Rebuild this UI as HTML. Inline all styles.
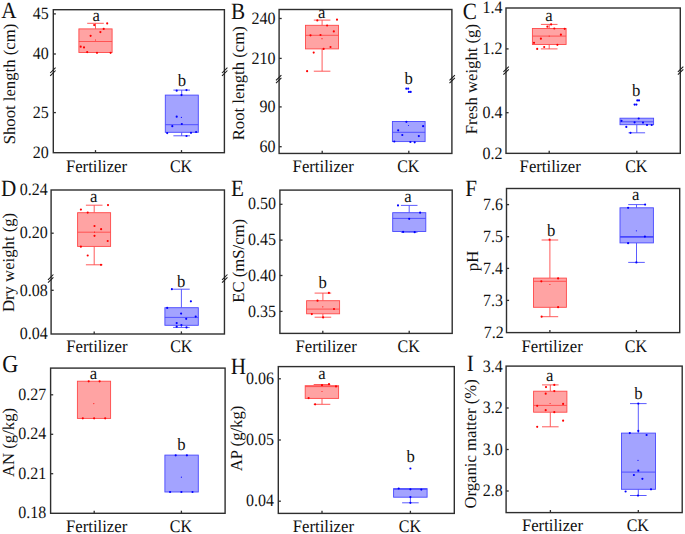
<!DOCTYPE html>
<html><head><meta charset="utf-8"><title>Box plots</title>
<style>
html,body{margin:0;padding:0;background:#fff;}
body{width:685px;height:534px;overflow:hidden;}
svg{display:block;}
svg text{font-family:"Liberation Serif",serif;fill:#111;text-rendering:geometricPrecision;}
</style></head><body>
<svg width="685" height="534" viewBox="0 0 685 534">
<rect width="685" height="534" fill="#fff"/>
<rect x="53.3" y="9.7" width="171.10" height="143.00" fill="none" stroke="#2e2e2e" stroke-width="1.4"/>
<line x1="53.3" y1="13.9" x2="55.9" y2="13.9" stroke="#2e2e2e" stroke-width="1.3"/>
<text transform="translate(48.70,19.07) scale(1,1.085)" text-anchor="end" font-size="16.0">45</text>
<line x1="53.3" y1="54" x2="55.9" y2="54" stroke="#2e2e2e" stroke-width="1.3"/>
<text transform="translate(48.70,59.17) scale(1,1.085)" text-anchor="end" font-size="16.0">40</text>
<line x1="53.3" y1="112.6" x2="55.9" y2="112.6" stroke="#2e2e2e" stroke-width="1.3"/>
<text transform="translate(48.70,117.77) scale(1,1.085)" text-anchor="end" font-size="16.0">25</text>
<text transform="translate(48.70,157.87) scale(1,1.085)" text-anchor="end" font-size="16.0">20</text>
<line x1="50.20" y1="73.00" x2="55.60" y2="67.70" stroke="#1a1a1a" stroke-width="1.05"/>
<line x1="50.20" y1="75.80" x2="55.60" y2="70.50" stroke="#1a1a1a" stroke-width="1.05"/>
<line x1="222.00" y1="73.00" x2="227.40" y2="67.70" stroke="#1a1a1a" stroke-width="1.05"/>
<line x1="222.00" y1="75.80" x2="227.40" y2="70.50" stroke="#1a1a1a" stroke-width="1.05"/>
<text transform="translate(15.0,144.3) rotate(-90)" font-size="16.7">Shoot length (cm)</text>
<text transform="translate(1.2,18.20) scale(1,1.10)" font-size="21.2">A</text>
<line x1="95.5" y1="152.7" x2="95.5" y2="150.1" stroke="#2e2e2e" stroke-width="1.3"/>
<text transform="translate(96.50,171.55) scale(1,1.045)" text-anchor="middle" font-size="16.7">Fertilizer</text>
<line x1="181.5" y1="152.7" x2="181.5" y2="150.1" stroke="#2e2e2e" stroke-width="1.3"/>
<text transform="translate(181.00,171.55) scale(1,1.1)" text-anchor="middle" font-size="16.0">CK</text>
<text transform="translate(96.3,21.40) scale(1,1.045)" text-anchor="middle" font-size="16.7">a</text>
<text transform="translate(181.8,86.00) scale(1,1.045)" text-anchor="middle" font-size="16.7">b</text>
<path d="M95.5 28.9V23.3M87.20 23.3H103.80" stroke="#ff4848" stroke-width="0.9" fill="none"/>
<rect x="78.9" y="28.9" width="33.20" height="23.60" fill="#ffa3a3" stroke="#ff4848" stroke-width="0.9"/>
<line x1="78.9" y1="41.5" x2="112.1" y2="41.5" stroke="#ff4848" stroke-width="0.9"/>
<circle cx="107.2" cy="23.4" r="1.08" fill="#ff0000"/>
<circle cx="94.2" cy="25.1" r="1.08" fill="#ff0000"/>
<circle cx="103.7" cy="28.9" r="1.08" fill="#ff0000"/>
<circle cx="100.4" cy="32.1" r="1.08" fill="#ff0000"/>
<circle cx="90.6" cy="35.8" r="1.08" fill="#ff0000"/>
<circle cx="80.7" cy="46.7" r="1.08" fill="#ff0000"/>
<circle cx="84" cy="47.4" r="1.08" fill="#ff0000"/>
<circle cx="87.2" cy="52.1" r="1.08" fill="#ff0000"/>
<circle cx="97" cy="52.8" r="1.08" fill="#ff0000"/>
<circle cx="110.6" cy="52.8" r="1.08" fill="#ff0000"/>
<circle cx="95.5" cy="40.0" r="0.58" fill="#ff0000" fill-opacity="0.9"/>
<path d="M181.7 95.1V90.1M173.40 90.1H190.00" stroke="#4848ff" stroke-width="0.9" fill="none"/>
<path d="M181.7 132.3V135.8M173.40 135.8H190.00" stroke="#4848ff" stroke-width="0.9" fill="none"/>
<rect x="165.3" y="95.1" width="33.00" height="37.20" fill="#a3a3ff" stroke="#4848ff" stroke-width="0.9"/>
<line x1="165.3" y1="124.7" x2="198.3" y2="124.7" stroke="#4848ff" stroke-width="0.9"/>
<circle cx="176.7" cy="90.7" r="1.08" fill="#0000ff"/>
<circle cx="186.5" cy="90.1" r="1.08" fill="#0000ff"/>
<circle cx="181.5" cy="95.1" r="1.08" fill="#0000ff"/>
<circle cx="176.7" cy="116.7" r="1.08" fill="#0000ff"/>
<circle cx="181.8" cy="124" r="1.08" fill="#0000ff"/>
<circle cx="172.3" cy="126.2" r="1.08" fill="#0000ff"/>
<circle cx="167.2" cy="133.1" r="1.08" fill="#0000ff"/>
<circle cx="191" cy="132.8" r="1.08" fill="#0000ff"/>
<circle cx="196.1" cy="132" r="1.08" fill="#0000ff"/>
<circle cx="186.5" cy="136" r="1.08" fill="#0000ff"/>
<circle cx="181.4" cy="117.4" r="0.58" fill="#0000ff" fill-opacity="0.9"/>
<rect x="279.1" y="9.5" width="172.80" height="143.95" fill="none" stroke="#2e2e2e" stroke-width="1.4"/>
<line x1="279.1" y1="18.5" x2="281.70000000000005" y2="18.5" stroke="#2e2e2e" stroke-width="1.3"/>
<text transform="translate(275.40,23.67) scale(1,1.085)" text-anchor="end" font-size="16.0">240</text>
<line x1="279.1" y1="58.4" x2="281.70000000000005" y2="58.4" stroke="#2e2e2e" stroke-width="1.3"/>
<text transform="translate(275.40,63.57) scale(1,1.085)" text-anchor="end" font-size="16.0">210</text>
<line x1="279.1" y1="106.9" x2="281.70000000000005" y2="106.9" stroke="#2e2e2e" stroke-width="1.3"/>
<text transform="translate(275.40,112.07) scale(1,1.085)" text-anchor="end" font-size="16.0">90</text>
<line x1="279.1" y1="146.7" x2="281.70000000000005" y2="146.7" stroke="#2e2e2e" stroke-width="1.3"/>
<text transform="translate(275.40,151.87) scale(1,1.085)" text-anchor="end" font-size="16.0">60</text>
<line x1="276.00" y1="80.40" x2="281.40" y2="75.10" stroke="#1a1a1a" stroke-width="1.05"/>
<line x1="276.00" y1="83.20" x2="281.40" y2="77.90" stroke="#1a1a1a" stroke-width="1.05"/>
<line x1="449.50" y1="80.40" x2="454.90" y2="75.10" stroke="#1a1a1a" stroke-width="1.05"/>
<line x1="449.50" y1="83.20" x2="454.90" y2="77.90" stroke="#1a1a1a" stroke-width="1.05"/>
<text transform="translate(244.3,140.3) rotate(-90)" font-size="16.7">Root length (cm)</text>
<text transform="translate(230.9,18.60) scale(1,1.10)" font-size="21.2">B</text>
<line x1="322.2" y1="153.45" x2="322.2" y2="150.85" stroke="#2e2e2e" stroke-width="1.3"/>
<text transform="translate(323.20,171.85) scale(1,1.045)" text-anchor="middle" font-size="16.7">Fertilizer</text>
<line x1="408.8" y1="153.45" x2="408.8" y2="150.85" stroke="#2e2e2e" stroke-width="1.3"/>
<text transform="translate(408.30,171.85) scale(1,1.1)" text-anchor="middle" font-size="16.0">CK</text>
<text transform="translate(321.7,17.70) scale(1,1.045)" text-anchor="middle" font-size="16.7">a</text>
<text transform="translate(408.6,83.60) scale(1,1.045)" text-anchor="middle" font-size="16.7">b</text>
<path d="M322.1 25.3V20.1M313.80 20.1H330.40" stroke="#ff4848" stroke-width="0.9" fill="none"/>
<path d="M322.1 48.9V71.2M313.80 71.2H330.40" stroke="#ff4848" stroke-width="0.9" fill="none"/>
<rect x="305.5" y="25.3" width="33.00" height="23.60" fill="#ffa3a3" stroke="#ff4848" stroke-width="0.9"/>
<line x1="305.5" y1="35.3" x2="338.5" y2="35.3" stroke="#ff4848" stroke-width="0.9"/>
<circle cx="337" cy="19.7" r="1.08" fill="#ff0000"/>
<circle cx="317.3" cy="20.4" r="1.08" fill="#ff0000"/>
<circle cx="327.1" cy="25.5" r="1.08" fill="#ff0000"/>
<circle cx="333.8" cy="31.4" r="1.08" fill="#ff0000"/>
<circle cx="310.5" cy="35.3" r="1.08" fill="#ff0000"/>
<circle cx="320.5" cy="35" r="1.08" fill="#ff0000"/>
<circle cx="330.5" cy="47" r="1.08" fill="#ff0000"/>
<circle cx="323.6" cy="48.9" r="1.08" fill="#ff0000"/>
<circle cx="313.7" cy="52.6" r="1.08" fill="#ff0000"/>
<circle cx="307.1" cy="71.2" r="1.08" fill="#ff0000"/>
<circle cx="322" cy="38.7" r="0.58" fill="#ff0000" fill-opacity="0.9"/>
<rect x="392.4" y="121.5" width="32.70" height="20.10" fill="#a3a3ff" stroke="#4848ff" stroke-width="0.9"/>
<line x1="392.4" y1="132.3" x2="425.1" y2="132.3" stroke="#4848ff" stroke-width="0.9"/>
<circle cx="406.4" cy="121.8" r="1.08" fill="#0000ff"/>
<circle cx="423.1" cy="126.2" r="1.08" fill="#0000ff"/>
<circle cx="398.2" cy="130.3" r="1.08" fill="#0000ff"/>
<circle cx="402.3" cy="135" r="1.08" fill="#0000ff"/>
<circle cx="418.8" cy="136.1" r="1.08" fill="#0000ff"/>
<circle cx="394.3" cy="141.5" r="1.08" fill="#0000ff"/>
<circle cx="410.4" cy="142" r="1.08" fill="#0000ff"/>
<circle cx="414.7" cy="142.3" r="1.08" fill="#0000ff"/>
<circle cx="406.3" cy="88.7" r="1.08" fill="#0000ff"/>
<circle cx="408.2" cy="88.7" r="1.08" fill="#0000ff"/>
<circle cx="408.9" cy="91.9" r="1.08" fill="#0000ff"/>
<circle cx="410.7" cy="91.9" r="1.08" fill="#0000ff"/>
<circle cx="408.5" cy="125.5" r="0.58" fill="#0000ff" fill-opacity="0.9"/>
<rect x="506.0" y="8.0" width="174.30" height="145.35" fill="none" stroke="#2e2e2e" stroke-width="1.4"/>
<text transform="translate(502.50,13.17) scale(1,1.085)" text-anchor="end" font-size="16.0">1.4</text>
<line x1="506.0" y1="48.9" x2="508.6" y2="48.9" stroke="#2e2e2e" stroke-width="1.3"/>
<text transform="translate(502.50,54.07) scale(1,1.085)" text-anchor="end" font-size="16.0">1.2</text>
<line x1="506.0" y1="112.7" x2="508.6" y2="112.7" stroke="#2e2e2e" stroke-width="1.3"/>
<text transform="translate(502.50,117.87) scale(1,1.085)" text-anchor="end" font-size="16.0">0.4</text>
<text transform="translate(502.50,158.52) scale(1,1.085)" text-anchor="end" font-size="16.0">0.2</text>
<line x1="503.40" y1="71.85" x2="508.80" y2="66.55" stroke="#1a1a1a" stroke-width="1.05"/>
<line x1="503.40" y1="74.65" x2="508.80" y2="69.35" stroke="#1a1a1a" stroke-width="1.05"/>
<line x1="677.90" y1="71.85" x2="683.30" y2="66.55" stroke="#1a1a1a" stroke-width="1.05"/>
<line x1="677.90" y1="74.65" x2="683.30" y2="69.35" stroke="#1a1a1a" stroke-width="1.05"/>
<text transform="translate(477.0,134.3) rotate(-90)" font-size="16.7">Fresh weight (g)</text>
<text transform="translate(462.8,18.50) scale(1,1.10)" font-size="21.2">C</text>
<line x1="549.2" y1="153.35" x2="549.2" y2="150.75" stroke="#2e2e2e" stroke-width="1.3"/>
<text transform="translate(550.20,171.85) scale(1,1.045)" text-anchor="middle" font-size="16.7">Fertilizer</text>
<line x1="636.8" y1="153.35" x2="636.8" y2="150.75" stroke="#2e2e2e" stroke-width="1.3"/>
<text transform="translate(636.30,171.85) scale(1,1.1)" text-anchor="middle" font-size="16.0">CK</text>
<text transform="translate(548.9,21.40) scale(1,1.045)" text-anchor="middle" font-size="16.7">a</text>
<text transform="translate(636.1,96.00) scale(1,1.045)" text-anchor="middle" font-size="16.7">b</text>
<path d="M549.2 28.5V24.4M540.90 24.4H557.50" stroke="#ff4848" stroke-width="0.9" fill="none"/>
<path d="M549.2 44.5V48.9M540.90 48.9H557.50" stroke="#ff4848" stroke-width="0.9" fill="none"/>
<rect x="532.4" y="28.5" width="33.70" height="16.00" fill="#ffa3a3" stroke="#ff4848" stroke-width="0.9"/>
<line x1="532.4" y1="36.1" x2="566.1" y2="36.1" stroke="#ff4848" stroke-width="0.9"/>
<circle cx="551.1" cy="24.4" r="1.08" fill="#ff0000"/>
<circle cx="547.4" cy="26.7" r="1.08" fill="#ff0000"/>
<circle cx="554.3" cy="28.5" r="1.08" fill="#ff0000"/>
<circle cx="564.7" cy="28.8" r="1.08" fill="#ff0000"/>
<circle cx="560.9" cy="34.7" r="1.08" fill="#ff0000"/>
<circle cx="540.9" cy="38.7" r="1.08" fill="#ff0000"/>
<circle cx="534" cy="42.8" r="1.08" fill="#ff0000"/>
<circle cx="557.4" cy="44.8" r="1.08" fill="#ff0000"/>
<circle cx="544.2" cy="47" r="1.08" fill="#ff0000"/>
<circle cx="537.2" cy="48.9" r="1.08" fill="#ff0000"/>
<circle cx="549.2" cy="36.1" r="0.58" fill="#ff0000" fill-opacity="0.9"/>
<path d="M636.8 124.7V132.8M628.50 132.8H645.10" stroke="#4848ff" stroke-width="0.9" fill="none"/>
<rect x="620.0" y="118.2" width="33.60" height="6.50" fill="#a3a3ff" stroke="#4848ff" stroke-width="0.9"/>
<line x1="620.0" y1="121.8" x2="653.6" y2="121.8" stroke="#4848ff" stroke-width="0.9"/>
<circle cx="638.7" cy="118.5" r="1.08" fill="#0000ff"/>
<circle cx="621.5" cy="120.8" r="1.08" fill="#0000ff"/>
<circle cx="634.6" cy="122.3" r="1.08" fill="#0000ff"/>
<circle cx="643" cy="122.6" r="1.08" fill="#0000ff"/>
<circle cx="647" cy="125" r="1.08" fill="#0000ff"/>
<circle cx="651.7" cy="125" r="1.08" fill="#0000ff"/>
<circle cx="626.3" cy="126.9" r="1.08" fill="#0000ff"/>
<circle cx="630.5" cy="132.8" r="1.08" fill="#0000ff"/>
<circle cx="637.3" cy="100.4" r="1.08" fill="#0000ff"/>
<circle cx="639" cy="100.4" r="1.08" fill="#0000ff"/>
<circle cx="634.6" cy="104.6" r="1.08" fill="#0000ff"/>
<circle cx="636.4" cy="104.6" r="1.08" fill="#0000ff"/>
<rect x="51.1" y="190.0" width="173.35" height="144.00" fill="none" stroke="#2e2e2e" stroke-width="1.4"/>
<text transform="translate(47.70,195.17) scale(1,1.085)" text-anchor="end" font-size="16.0">0.24</text>
<line x1="51.1" y1="233.2" x2="53.7" y2="233.2" stroke="#2e2e2e" stroke-width="1.3"/>
<text transform="translate(47.70,238.37) scale(1,1.085)" text-anchor="end" font-size="16.0">0.20</text>
<line x1="51.1" y1="290.3" x2="53.7" y2="290.3" stroke="#2e2e2e" stroke-width="1.3"/>
<text transform="translate(47.70,296.27) scale(1,1.085)" text-anchor="end" font-size="16.0">0.08</text>
<text transform="translate(47.70,339.17) scale(1,1.085)" text-anchor="end" font-size="16.0">0.04</text>
<line x1="48.00" y1="279.80" x2="53.40" y2="274.50" stroke="#1a1a1a" stroke-width="1.05"/>
<line x1="48.00" y1="282.60" x2="53.40" y2="277.30" stroke="#1a1a1a" stroke-width="1.05"/>
<line x1="222.05" y1="279.80" x2="227.45" y2="274.50" stroke="#1a1a1a" stroke-width="1.05"/>
<line x1="222.05" y1="282.60" x2="227.45" y2="277.30" stroke="#1a1a1a" stroke-width="1.05"/>
<text transform="translate(14.0,312.0) rotate(-90)" font-size="16.7">Dry weight (g)</text>
<text transform="translate(0.9,196.30) scale(1,1.10)" font-size="21.2">D</text>
<line x1="94.2" y1="334.0" x2="94.2" y2="331.4" stroke="#2e2e2e" stroke-width="1.3"/>
<text transform="translate(96.90,351.55) scale(1,1.045)" text-anchor="middle" font-size="16.7">Fertilizer</text>
<line x1="181.4" y1="334.0" x2="181.4" y2="331.4" stroke="#2e2e2e" stroke-width="1.3"/>
<text transform="translate(181.30,351.55) scale(1,1.1)" text-anchor="middle" font-size="16.0">CK</text>
<text transform="translate(93.8,201.80) scale(1,1.045)" text-anchor="middle" font-size="16.7">a</text>
<text transform="translate(181.1,286.50) scale(1,1.045)" text-anchor="middle" font-size="16.7">b</text>
<path d="M94.2 212.7V205.2M85.90 205.2H102.50" stroke="#ff4848" stroke-width="0.9" fill="none"/>
<path d="M94.2 246.4V264.8M85.90 264.8H102.50" stroke="#ff4848" stroke-width="0.9" fill="none"/>
<rect x="77.6" y="212.7" width="33.00" height="33.70" fill="#ffa3a3" stroke="#ff4848" stroke-width="0.9"/>
<line x1="77.6" y1="232.2" x2="110.6" y2="232.2" stroke="#ff4848" stroke-width="0.9"/>
<circle cx="108" cy="205.1" r="1.08" fill="#ff0000"/>
<circle cx="80.9" cy="209.6" r="1.08" fill="#ff0000"/>
<circle cx="87.7" cy="212.6" r="1.08" fill="#ff0000"/>
<circle cx="94.5" cy="226" r="1.08" fill="#ff0000"/>
<circle cx="101.1" cy="229.2" r="1.08" fill="#ff0000"/>
<circle cx="94.5" cy="235.8" r="1.08" fill="#ff0000"/>
<circle cx="107.7" cy="241" r="1.08" fill="#ff0000"/>
<circle cx="80.9" cy="246.7" r="1.08" fill="#ff0000"/>
<circle cx="87.7" cy="255.5" r="1.08" fill="#ff0000"/>
<circle cx="101" cy="264.8" r="1.08" fill="#ff0000"/>
<circle cx="94.5" cy="232.1" r="0.58" fill="#ff0000" fill-opacity="0.9"/>
<path d="M181.4 307.7V289.2M173.10 289.2H189.70" stroke="#4848ff" stroke-width="0.9" fill="none"/>
<path d="M181.4 325.3V327.4M173.10 327.4H189.70" stroke="#4848ff" stroke-width="0.9" fill="none"/>
<rect x="164.9" y="307.7" width="33.40" height="17.60" fill="#a3a3ff" stroke="#4848ff" stroke-width="0.9"/>
<line x1="164.9" y1="317.4" x2="198.3" y2="317.4" stroke="#4848ff" stroke-width="0.9"/>
<circle cx="171.9" cy="289.2" r="1.08" fill="#0000ff"/>
<circle cx="190.9" cy="301.3" r="1.08" fill="#0000ff"/>
<circle cx="167.2" cy="307.9" r="1.08" fill="#0000ff"/>
<circle cx="181.1" cy="313.6" r="1.08" fill="#0000ff"/>
<circle cx="195.7" cy="316.6" r="1.08" fill="#0000ff"/>
<circle cx="186.2" cy="318.8" r="1.08" fill="#0000ff"/>
<circle cx="176.7" cy="323.1" r="1.08" fill="#0000ff"/>
<circle cx="181.4" cy="325" r="1.08" fill="#0000ff"/>
<circle cx="176.7" cy="326.7" r="1.08" fill="#0000ff"/>
<circle cx="186.5" cy="327.4" r="1.08" fill="#0000ff"/>
<rect x="279.9" y="190.1" width="172.30" height="143.30" fill="none" stroke="#2e2e2e" stroke-width="1.4"/>
<line x1="279.9" y1="204.3" x2="282.5" y2="204.3" stroke="#2e2e2e" stroke-width="1.3"/>
<text transform="translate(276.10,209.47) scale(1,1.085)" text-anchor="end" font-size="16.0">0.50</text>
<line x1="279.9" y1="240.1" x2="282.5" y2="240.1" stroke="#2e2e2e" stroke-width="1.3"/>
<text transform="translate(276.10,245.27) scale(1,1.085)" text-anchor="end" font-size="16.0">0.45</text>
<line x1="279.9" y1="275.5" x2="282.5" y2="275.5" stroke="#2e2e2e" stroke-width="1.3"/>
<text transform="translate(276.10,280.67) scale(1,1.085)" text-anchor="end" font-size="16.0">0.40</text>
<line x1="279.9" y1="311.4" x2="282.5" y2="311.4" stroke="#2e2e2e" stroke-width="1.3"/>
<text transform="translate(276.10,316.57) scale(1,1.085)" text-anchor="end" font-size="16.0">0.35</text>
<text transform="translate(243.8,302.8) rotate(-90)" font-size="16.7">EC (mS/cm)</text>
<text transform="translate(231.0,196.30) scale(1,1.10)" font-size="21.2">E</text>
<line x1="322.8" y1="333.4" x2="322.8" y2="330.79999999999995" stroke="#2e2e2e" stroke-width="1.3"/>
<text transform="translate(326.10,351.55) scale(1,1.045)" text-anchor="middle" font-size="16.7">Fertilizer</text>
<line x1="409.2" y1="333.4" x2="409.2" y2="330.79999999999995" stroke="#2e2e2e" stroke-width="1.3"/>
<text transform="translate(408.70,351.55) scale(1,1.1)" text-anchor="middle" font-size="16.0">CK</text>
<text transform="translate(322.6,288.40) scale(1,1.045)" text-anchor="middle" font-size="16.7">b</text>
<text transform="translate(407.9,202.20) scale(1,1.045)" text-anchor="middle" font-size="16.7">a</text>
<path d="M322.9 300.7V293.1M314.60 293.1H331.20" stroke="#ff4848" stroke-width="0.9" fill="none"/>
<path d="M322.9 313.8V317.2M314.60 317.2H331.20" stroke="#ff4848" stroke-width="0.9" fill="none"/>
<rect x="306.6" y="300.7" width="33.00" height="13.10" fill="#ffa3a3" stroke="#ff4848" stroke-width="0.9"/>
<line x1="306.6" y1="309.1" x2="339.6" y2="309.1" stroke="#ff4848" stroke-width="0.9"/>
<circle cx="328.9" cy="292.9" r="1.08" fill="#ff0000"/>
<circle cx="317.5" cy="300.7" r="1.08" fill="#ff0000"/>
<circle cx="334" cy="309" r="1.08" fill="#ff0000"/>
<circle cx="311.8" cy="314.1" r="1.08" fill="#ff0000"/>
<circle cx="323.1" cy="317.4" r="1.08" fill="#ff0000"/>
<circle cx="322.8" cy="306.8" r="0.58" fill="#ff0000" fill-opacity="0.9"/>
<path d="M409.2 212.7V205.4M400.90 205.4H417.50" stroke="#4848ff" stroke-width="0.9" fill="none"/>
<path d="M409.2 231.5V232.2M400.90 232.2H417.50" stroke="#4848ff" stroke-width="0.9" fill="none"/>
<rect x="392.7" y="212.7" width="33.10" height="18.80" fill="#a3a3ff" stroke="#4848ff" stroke-width="0.9"/>
<line x1="392.7" y1="218.4" x2="425.8" y2="218.4" stroke="#4848ff" stroke-width="0.9"/>
<circle cx="398" cy="205.4" r="1.08" fill="#0000ff"/>
<circle cx="420.1" cy="212.7" r="1.08" fill="#0000ff"/>
<circle cx="409.2" cy="218.8" r="1.08" fill="#0000ff"/>
<circle cx="403.1" cy="231.9" r="1.08" fill="#0000ff"/>
<circle cx="414.7" cy="232.2" r="1.08" fill="#0000ff"/>
<rect x="506.5" y="188.5" width="173.20" height="144.10" fill="none" stroke="#2e2e2e" stroke-width="1.4"/>
<line x1="506.5" y1="204.6" x2="509.1" y2="204.6" stroke="#2e2e2e" stroke-width="1.3"/>
<text transform="translate(503.10,209.77) scale(1,1.085)" text-anchor="end" font-size="16.0">7.6</text>
<line x1="506.5" y1="236.7" x2="509.1" y2="236.7" stroke="#2e2e2e" stroke-width="1.3"/>
<text transform="translate(503.10,241.87) scale(1,1.085)" text-anchor="end" font-size="16.0">7.5</text>
<line x1="506.5" y1="268.4" x2="509.1" y2="268.4" stroke="#2e2e2e" stroke-width="1.3"/>
<text transform="translate(503.10,273.57) scale(1,1.085)" text-anchor="end" font-size="16.0">7.4</text>
<line x1="506.5" y1="300.4" x2="509.1" y2="300.4" stroke="#2e2e2e" stroke-width="1.3"/>
<text transform="translate(503.10,305.57) scale(1,1.085)" text-anchor="end" font-size="16.0">7.3</text>
<text transform="translate(503.70,338.37) scale(1,1.085)" text-anchor="end" font-size="16.0">7.2</text>
<text transform="translate(478.4,271.2) rotate(-90)" font-size="16.7">pH</text>
<text transform="translate(465.2,196.30) scale(1,1.10)" font-size="21.2">F</text>
<line x1="549.9" y1="332.6" x2="549.9" y2="330.0" stroke="#2e2e2e" stroke-width="1.3"/>
<text transform="translate(552.10,351.55) scale(1,1.045)" text-anchor="middle" font-size="16.7">Fertilizer</text>
<line x1="636.4" y1="332.6" x2="636.4" y2="330.0" stroke="#2e2e2e" stroke-width="1.3"/>
<text transform="translate(635.90,351.55) scale(1,1.1)" text-anchor="middle" font-size="16.0">CK</text>
<text transform="translate(551.1,236.00) scale(1,1.045)" text-anchor="middle" font-size="16.7">b</text>
<text transform="translate(635.7,200.30) scale(1,1.045)" text-anchor="middle" font-size="16.7">a</text>
<path d="M549.9 278.1V240M541.60 240H558.20" stroke="#ff4848" stroke-width="0.9" fill="none"/>
<path d="M549.9 307.3V316.7M541.60 316.7H558.20" stroke="#ff4848" stroke-width="0.9" fill="none"/>
<rect x="533.5" y="278.1" width="32.90" height="29.20" fill="#ffa3a3" stroke="#ff4848" stroke-width="0.9"/>
<line x1="533.5" y1="281.3" x2="566.4" y2="281.3" stroke="#ff4848" stroke-width="0.9"/>
<circle cx="549.6" cy="239.7" r="1.08" fill="#ff0000"/>
<circle cx="558.1" cy="278.4" r="1.08" fill="#ff0000"/>
<circle cx="541.3" cy="281.3" r="1.08" fill="#ff0000"/>
<circle cx="558.1" cy="307.2" r="1.08" fill="#ff0000"/>
<circle cx="541.6" cy="316.7" r="1.08" fill="#ff0000"/>
<circle cx="549.9" cy="284.5" r="0.58" fill="#ff0000" fill-opacity="0.9"/>
<path d="M636.5 207.8V204.6M628.20 204.6H644.80" stroke="#4848ff" stroke-width="0.9" fill="none"/>
<path d="M636.5 242.9V262.4M628.20 262.4H644.80" stroke="#4848ff" stroke-width="0.9" fill="none"/>
<rect x="620.0" y="207.8" width="33.40" height="35.10" fill="#a3a3ff" stroke="#4848ff" stroke-width="0.9"/>
<line x1="620.0" y1="236.8" x2="653.4" y2="236.8" stroke="#4848ff" stroke-width="1.7"/>
<circle cx="645.1" cy="204.6" r="1.08" fill="#0000ff"/>
<circle cx="628.1" cy="207.8" r="1.08" fill="#0000ff"/>
<circle cx="644.9" cy="236.6" r="1.08" fill="#0000ff"/>
<circle cx="628.1" cy="243.2" r="1.08" fill="#0000ff"/>
<circle cx="636.4" cy="262.4" r="1.08" fill="#0000ff"/>
<circle cx="636.4" cy="230.8" r="0.58" fill="#0000ff" fill-opacity="0.9"/>
<rect x="50.6" y="368.1" width="174.50" height="145.20" fill="none" stroke="#2e2e2e" stroke-width="1.4"/>
<line x1="50.6" y1="394.8" x2="53.2" y2="394.8" stroke="#2e2e2e" stroke-width="1.3"/>
<text transform="translate(46.30,399.97) scale(1,1.085)" text-anchor="end" font-size="16.0">0.27</text>
<line x1="50.6" y1="434.3" x2="53.2" y2="434.3" stroke="#2e2e2e" stroke-width="1.3"/>
<text transform="translate(46.30,439.47) scale(1,1.085)" text-anchor="end" font-size="16.0">0.24</text>
<line x1="50.6" y1="473.7" x2="53.2" y2="473.7" stroke="#2e2e2e" stroke-width="1.3"/>
<text transform="translate(46.30,478.87) scale(1,1.085)" text-anchor="end" font-size="16.0">0.21</text>
<text transform="translate(46.30,518.47) scale(1,1.085)" text-anchor="end" font-size="16.0">0.18</text>
<text transform="translate(14.1,477.0) rotate(-90)" font-size="16.7">AN (g/kg)</text>
<text transform="translate(2.2,372.40) scale(1,1.10)" font-size="22.2">G</text>
<line x1="94.2" y1="513.3" x2="94.2" y2="510.69999999999993" stroke="#2e2e2e" stroke-width="1.3"/>
<text transform="translate(96.60,531.75) scale(1,1.045)" text-anchor="middle" font-size="16.7">Fertilizer</text>
<line x1="181.4" y1="513.3" x2="181.4" y2="510.69999999999993" stroke="#2e2e2e" stroke-width="1.3"/>
<text transform="translate(180.90,531.75) scale(1,1.1)" text-anchor="middle" font-size="16.0">CK</text>
<text transform="translate(93.5,378.60) scale(1,1.045)" text-anchor="middle" font-size="16.7">a</text>
<text transform="translate(181.4,449.60) scale(1,1.045)" text-anchor="middle" font-size="16.7">b</text>
<rect x="77.4" y="381.2" width="33.20" height="37.20" fill="#ffa3a3" stroke="#ff4848" stroke-width="0.9"/>
<circle cx="88.7" cy="381.3" r="1.08" fill="#ff0000"/>
<circle cx="99.6" cy="381.3" r="1.08" fill="#ff0000"/>
<circle cx="82.8" cy="418.3" r="1.08" fill="#ff0000"/>
<circle cx="94.1" cy="418.3" r="1.08" fill="#ff0000"/>
<circle cx="105.2" cy="418.3" r="1.08" fill="#ff0000"/>
<circle cx="93.8" cy="403.6" r="0.58" fill="#ff0000" fill-opacity="0.9"/>
<rect x="164.9" y="455.1" width="33.40" height="36.90" fill="#a3a3ff" stroke="#4848ff" stroke-width="0.9"/>
<circle cx="175.7" cy="455.3" r="1.08" fill="#0000ff"/>
<circle cx="186.9" cy="455.3" r="1.08" fill="#0000ff"/>
<circle cx="170.1" cy="492" r="1.08" fill="#0000ff"/>
<circle cx="181.4" cy="492" r="1.08" fill="#0000ff"/>
<circle cx="192.5" cy="492" r="1.08" fill="#0000ff"/>
<circle cx="181.4" cy="477.2" r="0.58" fill="#0000ff" fill-opacity="0.9"/>
<rect x="278.3" y="366.6" width="176.00" height="146.80" fill="none" stroke="#2e2e2e" stroke-width="1.4"/>
<line x1="278.3" y1="378.8" x2="280.90000000000003" y2="378.8" stroke="#2e2e2e" stroke-width="1.3"/>
<text transform="translate(274.10,383.97) scale(1,1.085)" text-anchor="end" font-size="16.0">0.06</text>
<line x1="278.3" y1="440" x2="280.90000000000003" y2="440" stroke="#2e2e2e" stroke-width="1.3"/>
<text transform="translate(274.10,445.17) scale(1,1.085)" text-anchor="end" font-size="16.0">0.05</text>
<line x1="278.3" y1="501.2" x2="280.90000000000003" y2="501.2" stroke="#2e2e2e" stroke-width="1.3"/>
<text transform="translate(274.10,506.37) scale(1,1.085)" text-anchor="end" font-size="16.0">0.04</text>
<text transform="translate(241.5,471.3) rotate(-90)" font-size="16.7">AP (g/kg)</text>
<text transform="translate(230.7,373.70) scale(1,1.10)" font-size="21.2">H</text>
<line x1="322" y1="513.4" x2="322" y2="510.79999999999995" stroke="#2e2e2e" stroke-width="1.3"/>
<text transform="translate(323.40,531.85) scale(1,1.045)" text-anchor="middle" font-size="16.7">Fertilizer</text>
<line x1="410.4" y1="513.4" x2="410.4" y2="510.79999999999995" stroke="#2e2e2e" stroke-width="1.3"/>
<text transform="translate(409.90,531.85) scale(1,1.1)" text-anchor="middle" font-size="16.0">CK</text>
<text transform="translate(322,379.30) scale(1,1.045)" text-anchor="middle" font-size="16.7">a</text>
<text transform="translate(410.7,461.80) scale(1,1.045)" text-anchor="middle" font-size="16.7">b</text>
<path d="M322 385.7V384.5M313.70 384.5H330.30" stroke="#ff4848" stroke-width="0.9" fill="none"/>
<path d="M322 398.4V404.3M313.70 404.3H330.30" stroke="#ff4848" stroke-width="0.9" fill="none"/>
<rect x="305.2" y="385.7" width="33.40" height="12.70" fill="#ffa3a3" stroke="#ff4848" stroke-width="0.9"/>
<line x1="305.2" y1="386.6" x2="338.6" y2="386.6" stroke="#ff4848" stroke-width="0.9"/>
<circle cx="329" cy="384.2" r="1.08" fill="#ff0000"/>
<circle cx="322" cy="385.2" r="1.08" fill="#ff0000"/>
<circle cx="336" cy="386.4" r="1.08" fill="#ff0000"/>
<circle cx="308.6" cy="398.1" r="1.08" fill="#ff0000"/>
<circle cx="315.1" cy="404.3" r="1.08" fill="#ff0000"/>
<circle cx="322" cy="391.5" r="0.58" fill="#ff0000" fill-opacity="0.9"/>
<path d="M410.4 497.2V502.8M402.10 502.8H418.70" stroke="#4848ff" stroke-width="0.9" fill="none"/>
<rect x="393.6" y="488.6" width="33.50" height="8.60" fill="#a3a3ff" stroke="#4848ff" stroke-width="0.9"/>
<line x1="393.6" y1="489.4" x2="427.1" y2="489.4" stroke="#4848ff" stroke-width="0.9"/>
<circle cx="398.7" cy="488.5" r="1.08" fill="#0000ff"/>
<circle cx="410.4" cy="489.3" r="1.08" fill="#0000ff"/>
<circle cx="421.3" cy="489.6" r="1.08" fill="#0000ff"/>
<circle cx="410.4" cy="497.1" r="1.08" fill="#0000ff"/>
<circle cx="410.4" cy="502.8" r="1.08" fill="#0000ff"/>
<circle cx="410.4" cy="468.5" r="1.08" fill="#0000ff"/>
<rect x="506.1" y="366.1" width="176.10" height="146.50" fill="none" stroke="#2e2e2e" stroke-width="1.4"/>
<text transform="translate(502.70,371.57) scale(1,1.085)" text-anchor="end" font-size="16.0">3.4</text>
<line x1="506.1" y1="408" x2="508.70000000000005" y2="408" stroke="#2e2e2e" stroke-width="1.3"/>
<text transform="translate(502.70,413.17) scale(1,1.085)" text-anchor="end" font-size="16.0">3.2</text>
<line x1="506.1" y1="449.5" x2="508.70000000000005" y2="449.5" stroke="#2e2e2e" stroke-width="1.3"/>
<text transform="translate(502.70,454.67) scale(1,1.085)" text-anchor="end" font-size="16.0">3.0</text>
<line x1="506.1" y1="491" x2="508.70000000000005" y2="491" stroke="#2e2e2e" stroke-width="1.3"/>
<text transform="translate(502.70,496.17) scale(1,1.085)" text-anchor="end" font-size="16.0">2.8</text>
<text transform="translate(475.6,508.6) rotate(-90)" font-size="16.7">Organic matter (%)</text>
<text transform="translate(466.8,371.00) scale(1,1.10)" font-size="21.2">I</text>
<line x1="550.4" y1="512.6" x2="550.4" y2="510.0" stroke="#2e2e2e" stroke-width="1.3"/>
<text transform="translate(552.50,531.25) scale(1,1.045)" text-anchor="middle" font-size="16.7">Fertilizer</text>
<line x1="638.3" y1="512.6" x2="638.3" y2="510.0" stroke="#2e2e2e" stroke-width="1.3"/>
<text transform="translate(637.80,531.25) scale(1,1.1)" text-anchor="middle" font-size="16.0">CK</text>
<text transform="translate(549.6,380.70) scale(1,1.045)" text-anchor="middle" font-size="16.7">a</text>
<text transform="translate(638.3,399.00) scale(1,1.045)" text-anchor="middle" font-size="16.7">b</text>
<path d="M550.3 391.2V384.9M542.00 384.9H558.60" stroke="#ff4848" stroke-width="0.9" fill="none"/>
<path d="M550.3 412.2V426.8M542.00 426.8H558.60" stroke="#ff4848" stroke-width="0.9" fill="none"/>
<rect x="533.6" y="391.2" width="33.30" height="21.00" fill="#ffa3a3" stroke="#ff4848" stroke-width="0.9"/>
<line x1="533.6" y1="405.4" x2="566.9" y2="405.4" stroke="#ff4848" stroke-width="0.9"/>
<circle cx="554.3" cy="384.9" r="1.08" fill="#ff0000"/>
<circle cx="546" cy="387.1" r="1.08" fill="#ff0000"/>
<circle cx="554.3" cy="391.1" r="1.08" fill="#ff0000"/>
<circle cx="545.7" cy="393.7" r="1.08" fill="#ff0000"/>
<circle cx="563.1" cy="403.9" r="1.08" fill="#ff0000"/>
<circle cx="537.2" cy="405.8" r="1.08" fill="#ff0000"/>
<circle cx="545.7" cy="410.2" r="1.08" fill="#ff0000"/>
<circle cx="554.3" cy="412.2" r="1.08" fill="#ff0000"/>
<circle cx="563.1" cy="420.7" r="1.08" fill="#ff0000"/>
<circle cx="537.2" cy="426.8" r="1.08" fill="#ff0000"/>
<circle cx="550.1" cy="403.5" r="0.58" fill="#ff0000" fill-opacity="0.9"/>
<path d="M638.3 433.1V403.6M630.00 403.6H646.60" stroke="#4848ff" stroke-width="0.9" fill="none"/>
<path d="M638.3 489.3V495.5M630.00 495.5H646.60" stroke="#4848ff" stroke-width="0.9" fill="none"/>
<rect x="621.5" y="433.1" width="34.00" height="56.20" fill="#a3a3ff" stroke="#4848ff" stroke-width="0.9"/>
<line x1="621.5" y1="472.1" x2="655.5" y2="472.1" stroke="#4848ff" stroke-width="0.9"/>
<circle cx="638.3" cy="403.6" r="1.08" fill="#0000ff"/>
<circle cx="638.3" cy="430.9" r="1.08" fill="#0000ff"/>
<circle cx="629.8" cy="433.1" r="1.08" fill="#0000ff"/>
<circle cx="646.6" cy="435" r="1.08" fill="#0000ff"/>
<circle cx="638.3" cy="470.7" r="1.08" fill="#0000ff"/>
<circle cx="633.9" cy="475" r="1.08" fill="#0000ff"/>
<circle cx="642.4" cy="478.8" r="1.08" fill="#0000ff"/>
<circle cx="651" cy="489.3" r="1.08" fill="#0000ff"/>
<circle cx="625.6" cy="491.5" r="1.08" fill="#0000ff"/>
<circle cx="638" cy="495.6" r="1.08" fill="#0000ff"/>
<circle cx="638" cy="460.4" r="0.58" fill="#0000ff" fill-opacity="0.9"/>
</svg>
</body></html>
